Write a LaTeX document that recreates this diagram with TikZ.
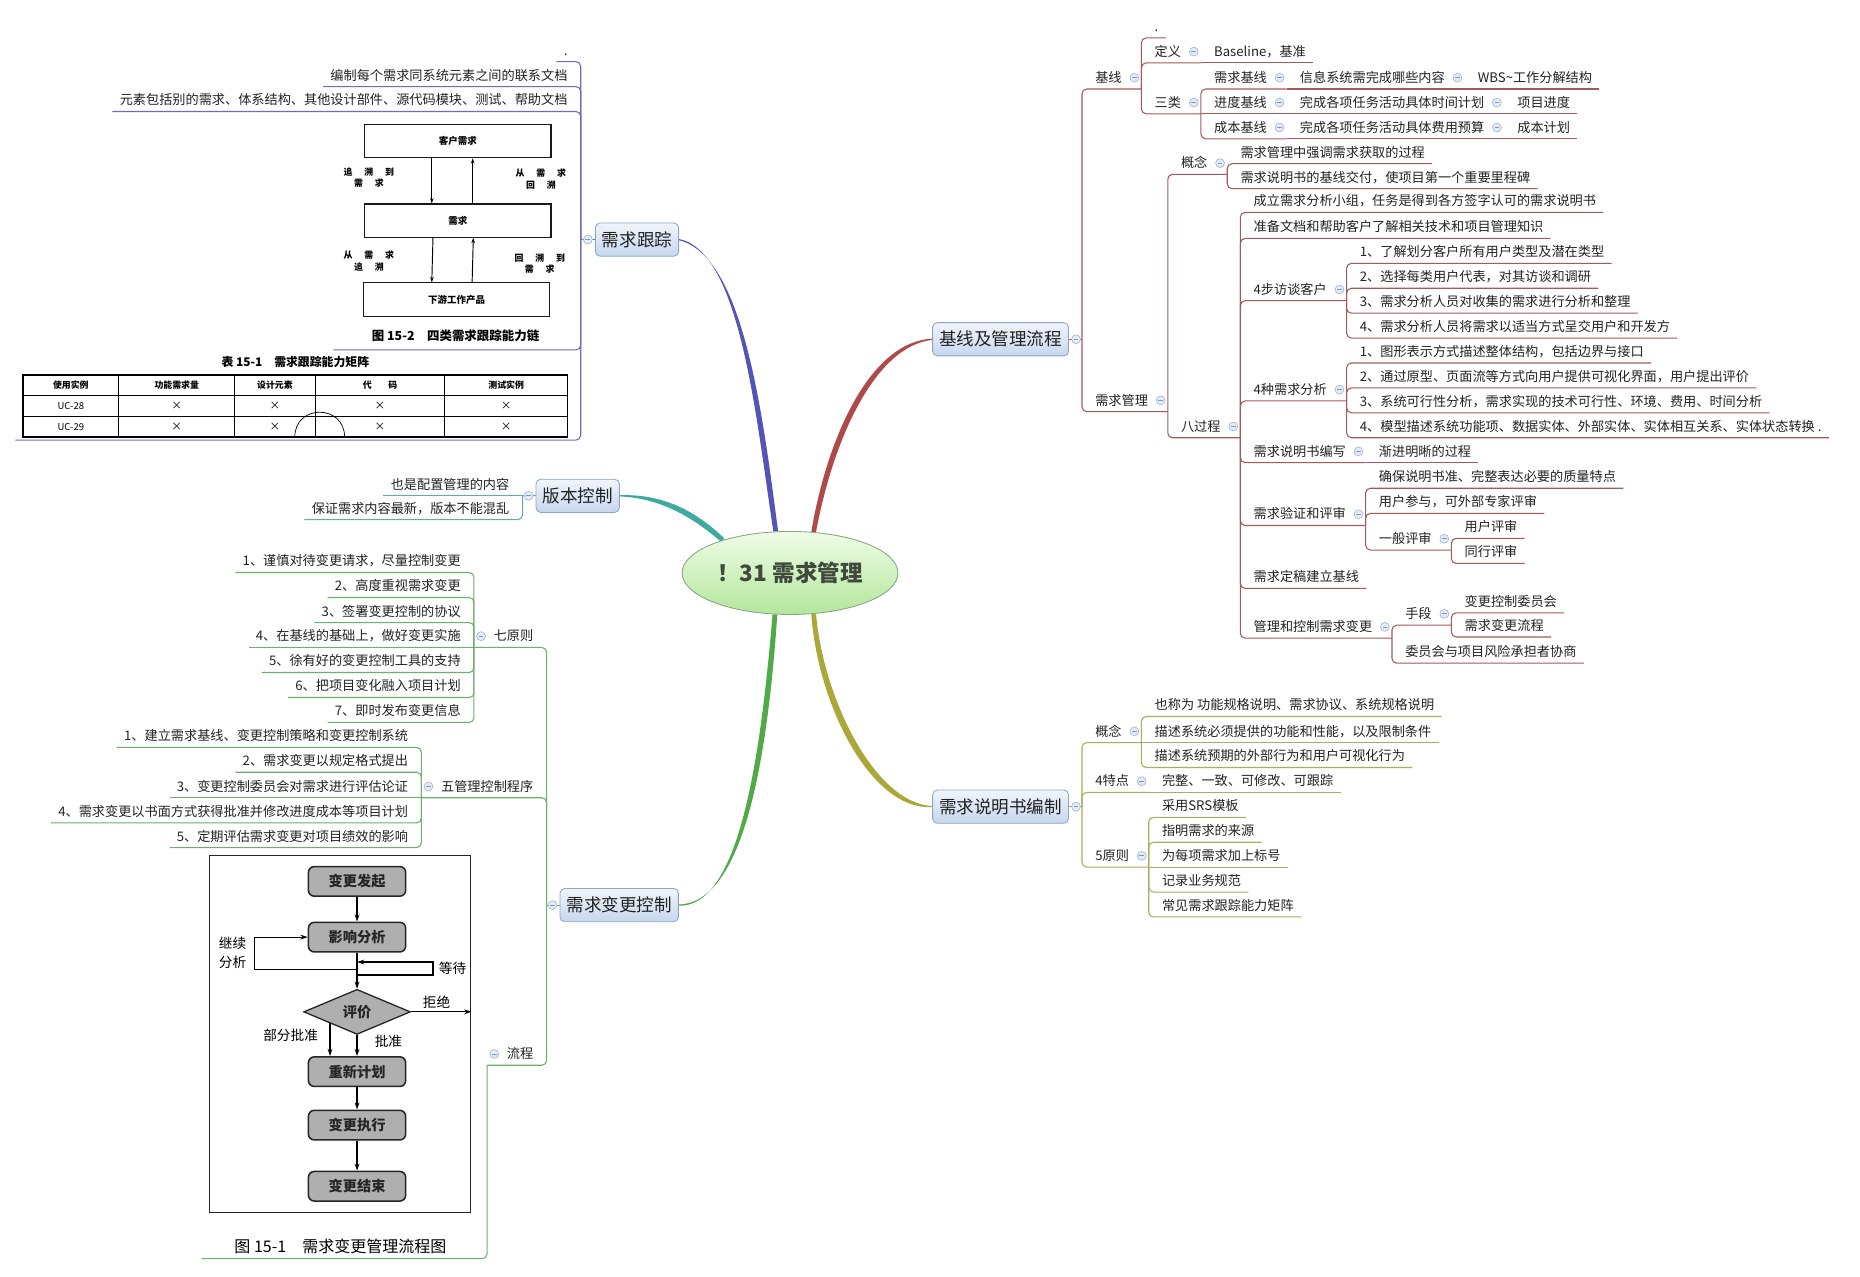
\documentclass[tikz,border=0pt]{standalone}
\usepackage{fontspec}
\setmainfont{Noto Sans CJK SC}
\usetikzlibrary{shapes.geometric,arrows.meta,backgrounds}

\definecolor{txt}{HTML}{222222}
\definecolor{mkF}{HTML}{E3EBF6}
\definecolor{mkD}{HTML}{9FB3D1}
\definecolor{mkL}{HTML}{7F97BF}
\definecolor{bxT}{HTML}{F1F5FB}
\definecolor{bxB}{HTML}{C6D7EE}
\definecolor{bxD}{HTML}{8EA5C3}
\definecolor{rtT}{HTML}{EFFCE6}
\definecolor{rtB}{HTML}{B3E69C}
\definecolor{rtD}{HTML}{86A47E}
\definecolor{rtX}{HTML}{3F4A3C}
\definecolor{cRed}{HTML}{A45A5A}
\definecolor{cOlive}{HTML}{ACAC5E}
\definecolor{cPurple}{HTML}{6E6EB4}
\definecolor{cTeal}{HTML}{5EAEA6}
\definecolor{cGreen}{HTML}{6DAF6D}
\definecolor{cvP}{HTML}{5454B6}
\definecolor{cvR}{HTML}{B04A4A}
\definecolor{cvT}{HTML}{3FAAA0}
\definecolor{cvO}{HTML}{A9A838}
\definecolor{cvG}{HTML}{4FAA47}
\definecolor{fcF}{HTML}{AFAFAF}

\tikzset{
 tt/.style={inner xsep=6pt, inner ysep=1pt, font=\fontsize{11.1}{13}\selectfont, text=txt},
 mk/.style={circle, minimum size=7.5pt, inner sep=0pt, fill=mkF, draw=mkD, line width=0.5pt,
   path picture={\draw[mkL, line width=0.7pt] ([xshift=-2pt]path picture bounding box.center) -- ([xshift=2pt]path picture bounding box.center);}},
 ln/.style={line width=0.9pt, rounded corners=4pt},
 bx/.style={rounded corners=4pt, draw=bxD, line width=0.7pt, top color=bxT, bottom color=bxB,
   minimum height=28pt, inner xsep=5.5pt, inner ysep=0pt, font=\fontsize{14.8}{17}\selectfont, text=txt},
 rootst/.style={ellipse, draw=rtD, line width=0.7pt, top color=rtT, bottom color=rtB,
   minimum width=182pt, minimum height=70pt, inner sep=0pt, font=\fontsize{19}{22}\selectfont\bfseries, text=rtX},
 fbox/.style={draw=black!90, line width=0.9pt, minimum width=157pt, minimum height=28pt, inner sep=0pt,
   font=\fontsize{8}{9}\selectfont\bfseries},
 farr/.style={line width=0.8pt, -{Stealth[length=4.5pt,width=3pt]}},
 flab/.style={align=center, inner sep=0pt, font=\fontsize{7.5}{9.5}\selectfont\bfseries},
 tcell/.style={inner sep=0pt, font=\fontsize{7.5}{9}\selectfont\bfseries},
 fcb/.style={rounded corners=5pt, draw=black!85, line width=1.3pt, fill=fcF, minimum width=82pt,
   minimum height=25pt, inner sep=0pt, font=\fontsize{12}{14}\selectfont\bfseries, text=black!85},
 fcarr/.style={line width=1pt, -{Stealth[length=6pt,width=4pt]}},
 fclab/.style={inner sep=0pt, align=center, font=\fontsize{11.5}{16}\selectfont},
}

% right-side leaf / parent ; optional [s] = straight (same line) connector
\newcommand\RT[5][e]{%
  \coordinate (#2-s) at (#3-e |- 0,#4);
  \node[tt, anchor=base west] (#2) at ([shift={(5,-5.5)}]#2-s) {#5};
  \path (#2.base east) ++(0,5.5) coordinate (#2-e);
  \if#1s\draw[ln] (#3-e) -- (#2-e);\else\draw[ln] (#3-e) -- (#2-s) -- (#2-e);\fi
}
\newcommand\RP[5][e]{%
  \coordinate (#2-s) at (#3-e |- 0,#4);
  \node[tt, anchor=base west] (#2) at ([shift={(5,-5.5)}]#2-s) {#5};
  \path (#2.base east) ++(10.5,5.5) coordinate (#2-e);
  \if#1s\draw[ln] (#3-e) -- (#2-e);\else\draw[ln] (#3-e) -- (#2-s) -- (#2-e);\fi
  \path (#2.base east) ++(4.5,-4) node[mk] (#2-m) {};
}
\newcommand\LT[5][e]{%
  \coordinate (#2-s) at (#3-e |- 0,#4);
  \node[tt, anchor=base east] (#2) at ([shift={(-5,-5.5)}]#2-s) {#5};
  \path (#2.base west) ++(0,5.5) coordinate (#2-e);
  \if#1s\draw[ln] (#3-e) -- (#2-e);\else\draw[ln] (#3-e) -- (#2-s) -- (#2-e);\fi
}
\newcommand\LP[5][e]{%
  \coordinate (#2-s) at (#3-e |- 0,#4);
  \node[tt, anchor=base east] (#2) at ([shift={(-5,-5.5)}]#2-s) {#5};
  \path (#2.base west) ++(-10.5,5.5) coordinate (#2-e);
  \if#1s\draw[ln] (#3-e) -- (#2-e);\else\draw[ln] (#3-e) -- (#2-s) -- (#2-e);\fi
  \path (#2.base west) ++(-4.5,-4) node[mk] (#2-m) {};
}

\begin{document}
\begin{tikzpicture}[x=1pt, y=-1pt]
\useasboundingbox (0,0) rectangle (1568,1076);
\begin{scope}[on background layer]
\fill[white] (0,0) rectangle (1568,1076);
\end{scope}

% ---------- root and main topics ----------
\node[rootst] (root) at (666,483) {！31 需求管理};
\node[bx] (trk)  at (537,202)   {需求跟踪};
\node[bx] (base) at (843.5,286) {基线及管理流程};
\node[bx] (ver)  at (487,418)   {版本控制};
\node[bx] (spec) at (843.5,680) {需求说明书编制};
\node[bx] (chg)  at (522,763)   {需求变更控制};

\begin{scope}[on background layer]
\fill[cvP] ([xshift=-2pt]root.109) .. controls (637,350) and (624,212) .. ([yshift=0.5pt]trk.east)
  -- ([yshift=-0.5pt]trk.east) .. controls (627,216) and (643,350) .. ([xshift=2pt]root.109) -- cycle;
\fill[cvR] ([xshift=-2pt]root.60) .. controls (697,370) and (733,288) .. ([yshift=0.5pt]base.west)
  -- ([yshift=-0.5pt]base.west) .. controls (737,292) and (702,372) .. ([xshift=2pt]root.60) -- cycle;
\fill[cvT] ([shift={(1.4,-1.4)}]root.154) .. controls (588,432) and (560,416) .. ([yshift=0.5pt]ver.east)
  -- ([yshift=-0.5pt]ver.east) .. controls (558,420) and (585,437) .. ([shift={(-1.4,1.4)}]root.154) -- cycle;
\fill[cvO] ([xshift=-2pt]root.300) .. controls (689,592) and (733,683) .. ([yshift=-0.5pt]spec.west)
  -- ([yshift=0.5pt]spec.west) .. controls (737,677) and (694,588) .. ([xshift=2pt]root.300) -- cycle;
\fill[cvG] ([xshift=-2pt]root.250) .. controls (641,640) and (623,765) .. ([yshift=-0.5pt]chg.east)
  -- ([yshift=0.5pt]chg.east) .. controls (627,761) and (647,640) .. ([xshift=2pt]root.250) -- cycle;
\end{scope}

% ---------- 基线及管理流程 ----------
\begin{scope}[ln/.append style={draw=cRed}]
\path (base.east) ++(11,0) coordinate (base-e);
\draw[ln] (base.east) -- (base-e);
\node[mk] (base-m) at ([xshift=6pt]base.east) {};
\RP{jx}{base}{75}{基线}
\RT{dot1}{jx}{32}{.}
\RP{dy}{jx}{53}{定义}
\RT[s]{bl}{dy}{53}{Baseline，基准}
\RP{sl}{jx}{96}{三类}
\RP{xqjx}{sl}{75}{需求基线}
\RP[s]{xxxt}{xqjx}{75}{信息系统需完成哪些内容}
\RT[s]{wbs}{xxxt}{75}{WBS\textasciitilde 工作分解结构}
\RP[s]{jdjx}{sl}{96}{进度基线}
\RP[s]{sjjh}{jdjx}{96}{完成各项任务活动具体时间计划}
\RT[s]{xmjd}{sjjh}{96}{项目进度}
\RP{cbjx}{sl}{117}{成本基线}
\RP[s]{fyys}{cbjx}{117}{完成各项任务活动具体费用预算}
\RT[s]{cbjh}{fyys}{117}{成本计划}
\RP{xqgl}{base}{347}{需求管理}
\RP{gn1}{xqgl}{147}{概念}
\RT{gn1a}{gn1}{138}{需求管理中强调需求获取的过程}
\RT{gn1b}{gn1}{159}{需求说明书的基线交付，使项目第一个重要里程碑}
\RP{bgc}{xqgl}{369}{八过程}
\RT{p1}{bgc}{179}{成立需求分析小组，任务是得到各方签字认可的需求说明书}
\RT{p2}{bgc}{201}{准备文档和帮助客户了解相关技术和项目管理知识}
\RP{p3}{bgc}{253.5}{4步访谈客户}
\RT{p3a}{p3}{222}{1、了解划分客户所有用户类型及潜在类型}
\RT{p3b}{p3}{243}{2、选择每类用户代表，对其访谈和调研}
\RT{p3c}{p3}{264}{3、需求分析人员对收集的需求进行分析和整理}
\RT{p3d}{p3}{285}{4、需求分析人员将需求以适当方式呈交用户和开发方}
\RP{p4}{bgc}{338}{4种需求分析}
\RT{p4a}{p4}{306}{1、图形表示方式描述整体结构，包括边界与接口}
\RT{p4b}{p4}{327}{2、通过原型、页面流等方式向用户提供可视化界面，用户提出评价}
\RT{p4c}{p4}{348}{3、系统可行性分析，需求实现的技术可行性、环境、费用、时间分析}
\RT{p4d}{p4}{369}{4、模型描述系统功能项、数据实体、外部实体、实体相互关系、实体状态转换 .}
\RP{p5}{bgc}{390}{需求说明书编写}
\RT[s]{p5a}{p5}{390}{渐进明晰的过程}
\RP{p6}{bgc}{443}{需求验证和评审}
\RT{p6a}{p6}{411.6}{确保说明书准、完整表达必要的质量特点}
\RT{p6b}{p6}{432.8}{用户参与，可外部专家评审}
\RP{p6c}{p6}{463.7}{一般评审}
\RT{p6c1}{p6c}{453.8}{用户评审}
\RT{p6c2}{p6c}{475}{同行评审}
\RT{p7}{bgc}{496}{需求定稿建立基线}
\RP{p8}{bgc}{538}{管理和控制需求变更}
\RP{p8a}{p8}{527}{手段}
\RT{p8a1}{p8a}{516.6}{变更控制委员会}
\RT{p8a2}{p8a}{537}{需求变更流程}
\RT{p8b}{p8}{559}{委员会与项目风险承担者协商}
\end{scope}

% ---------- 需求说明书编制 ----------
\begin{scope}[ln/.append style={draw=cOlive}]
\path (spec.east) ++(11,0) coordinate (spec-e);
\draw[ln] (spec.east) -- (spec-e);
\node[mk] (spec-m) at ([xshift=6pt]spec.east) {};
\RP{sg}{spec}{626}{概念}
\RT{sga}{sg}{604}{也称为 功能规格说明、需求协议、系统规格说明}
\RT[s]{sgb}{sg}{626}{描述系统必须提供的功能和性能，以及限制条件}
\RT{sgc}{sg}{647}{描述系统预期的外部行为和用户可视化行为}
\RP{st}{spec}{668}{4特点}
\RT[s]{sta}{st}{668}{完整、一致、可修改、可跟踪}
\RP{sy}{spec}{731}{5原则}
\RT{sy1}{sy}{689}{采用SRS模板}
\RT{sy2}{sy}{710}{指明需求的来源}
\RT[s]{sy3}{sy}{731}{为每项需求加上标号}
\RT{sy4}{sy}{752}{记录业务规范}
\RT{sy5}{sy}{773}{常见需求跟踪能力矩阵}
\end{scope}

% ---------- 需求跟踪 ----------
\begin{scope}[ln/.append style={draw=cPurple}]
\path (trk.west) ++(-12,0) coordinate (trk-e);
\draw[ln] (trk.west) -- (trk-e);
\node[mk] (trk-m) at ([xshift=-6pt]trk.west) {};
\LT{dot2}{trk}{52}{.}
\LT{tk1}{trk}{73}{编制每个需求同系统元素之间的联系文档}
\LT{tk2}{trk}{94}{元素包括别的需求、体系结构、其他设计部件、源代码模块、测试、帮助文档}
\coordinate (f152-s) at (trk-e |- 0,295);
\coordinate (f152-e) at (281,295);
\draw[ln] (trk-e) -- (f152-s) -- (f152-e);
\coordinate (tb-s) at (trk-e |- 0,371);
\coordinate (tb-e) at (13,371);
\draw[ln] (trk-e) -- (tb-s) -- (tb-e);
\end{scope}

% figure 15-2
\node[fbox] (fa) at (386,119) {客户需求};
\node[fbox] (fb) at (386,186) {需求};
\node[fbox] (fc) at (385,252.5) {下游工作产品};
\draw[farr] ([xshift=-22pt]fa.south) -- ([xshift=-22pt]fb.north);
\draw[farr] ([xshift=12.5pt]fb.north) -- ([xshift=12.5pt]fa.south);
\draw[farr] ([xshift=-21pt]fb.south) -- ([xshift=-21pt]fc.north);
\draw[farr] ([xshift=13pt]fc.north) -- ([xshift=13pt]fb.south);
\node[flab] (fl1) at (311,150) {追\hspace{10pt}溯\hspace{10pt}到\\需\hspace{10pt}求};
\node[flab] (fl2) at (456,151) {从\hspace{10pt}需\hspace{10pt}求\\回\hspace{10pt}溯};
\node[flab] (fl3) at (311,220) {从\hspace{10pt}需\hspace{10pt}求\\追\hspace{10pt}溯};
\node[flab] (fl4) at (455,222) {回\hspace{10pt}溯\hspace{10pt}到\\需\hspace{10pt}求};
\node[inner sep=0pt, font=\fontsize{10.5}{12}\selectfont\bfseries] (cap2) at (384,283) {图 15-2\quad 四类需求跟踪能力链};

% table 15-1
\node[inner sep=0pt, font=\fontsize{10}{12}\selectfont\bfseries] (tbt) at (249,305) {表 15-1\quad 需求跟踪能力矩阵};
\draw[line width=1.2pt] (19.4,316) rectangle (478.5,368.5);
\draw[line width=1pt] (19.4,333.5) -- (478.5,333.5);
\draw[line width=0.8pt] (19.4,350.7) -- (478.5,350.7);
\foreach \x in {100,198,265.6,375} \draw[line width=0.8pt] (\x,316) -- (\x,368.5);
\node[tcell] (h1) at (59.7,325) {使用实例};
\node[tcell] (h2) at (149,325) {功能需求量};
\node[tcell] (h3) at (231.8,325) {设计元素};
\node[tcell] (h4) at (320.3,325) {代\hspace{14pt}码};
\node[tcell] (h5) at (426.7,325) {测试实例};
\node[tcell, font=\fontsize{8}{9}\selectfont] (r1a) at (59.7,342) {UC-28};
\node[tcell, font=\fontsize{8}{9}\selectfont] (r2a) at (59.7,359.6) {UC-29};
\foreach \c/\x in {b/149,c/231.8,d/320.3,e/426.7}{
  \node[tcell, font=\fontsize{9}{9}\selectfont] (r1\c) at (\x,342) {×};
  \node[tcell, font=\fontsize{9}{9}\selectfont] (r2\c) at (\x,359.6) {×};
}
\draw[line width=0.6pt] (248.5,368.5) .. controls (248.5,340.5) and (290.5,340.5) .. (290.5,368.5);

% ---------- 版本控制 ----------
\begin{scope}[ln/.append style={draw=cTeal}]
\path (ver.west) ++(-11,0) coordinate (ver-e);
\draw[ln] (ver.west) -- (ver-e);
\node[mk] (ver-m) at ([xshift=-6pt]ver.west) {};
\LT[s]{v1}{ver}{418}{也是配置管理的内容}
\LT{v2}{ver}{438}{保证需求内容最新，版本不能混乱}
\end{scope}

% ---------- 需求变更控制 ----------
\begin{scope}[ln/.append style={draw=cGreen}]
\path (chg.west) ++(-11,0) coordinate (chg-e);
\draw[ln] (chg.west) -- (chg-e);
\node[mk] (chg-m) at ([xshift=-6pt]chg.west) {};
\LP{qy}{chg}{545.8}{七原则}
\LT{qy1}{qy}{482.6}{1、谨慎对待变更请求，尽量控制变更}
\LT{qy2}{qy}{503.7}{2、高度重视需求变更}
\LT{qy3}{qy}{524.8}{3、签署变更控制的协议}
\LT[s]{qy4}{qy}{545.8}{4、在基线的基础上，做好变更实施}
\LT{qy5}{qy}{566.9}{5、徐有好的变更控制工具的支持}
\LT{qy6}{qy}{588}{6、把项目变化融入项目计划}
\LT{qy7}{qy}{609}{7、即时发布变更信息}
\LP{wg}{chg}{672.5}{五管理控制程序}
\LT{wg1}{wg}{630}{1、建立需求基线、变更控制策略和变更控制系统}
\LT{wg2}{wg}{651}{2、需求变更以规定格式提出}
\LT[s]{wg3}{wg}{672.5}{3、变更控制委员会对需求进行评估论证}
\LT{wg4}{wg}{693.7}{4、需求变更以书面方式获得批准并修改进度成本等项目计划}
\LT{wg5}{wg}{714.5}{5、定期评估需求变更对项目绩效的影响}
\LP{lc}{chg}{898}{流程}
\coordinate (fcg-s) at (lc-e |- 0,1061);
\coordinate (fcg-e) at (170,1061);
\draw[ln] (lc-e) -- (fcg-s) -- (fcg-e);
\end{scope}

% flowchart figure 15-1
\node[draw=black!85, line width=0.9pt, minimum width=220.4pt, minimum height=301.2pt, inner sep=0pt] (frm) at (286.7,871.6) {};
\node[fcb] (q1) at (301,743) {变更发起};
\node[fcb] (q2) at (301,790) {影响分析};
\node[diamond, aspect=2.4, draw=black!85, line width=1.1pt, fill=fcF, minimum width=90pt, minimum height=38pt,
  inner sep=0pt, font=\fontsize{12}{14}\selectfont\bfseries, text=black!85] (pj) at (301,853) {评价};
\node[fcb] (q3) at (301,903.4) {重新计划};
\node[fcb] (q4) at (301,948.5) {变更执行};
\node[fcb] (q5) at (301,1000) {变更结束};
\draw[fcarr] (q1) -- (q2);
\draw[fcarr] (q2) -- (pj);
\draw[fcarr] (q2.south |- 0,817) -| ([xshift=-45pt]q2.west) -- (q2.west);
\draw[fcarr] (q2.south |- 0,822) -| (365,811) -- (q2.south |- 0,811);
\draw[fcarr] (pj.east) -- (pj.east -| frm.east);
\draw[fcarr] (pj.south west) -- (pj.south west |- q3.north);
\draw[fcarr] (pj.south) -- (q3.north);
\draw[fcarr] (q3) -- (q4);
\draw[fcarr] (q4) -- (q5);
\node[fclab] (lb1) at (196,803) {继续\\分析};
\node[fclab] (lb2) at (381.5,816) {等待};
\node[fclab] (lb3) at (368,845) {拒绝};
\node[fclab] (lb4) at (245,873) {部分批准};
\node[fclab] (lb5) at (327.5,878) {批准};
\node[inner sep=0pt, font=\fontsize{13.5}{16}\selectfont] (cap1) at (287,1051) {图 15-1\quad 需求变更管理流程图};

\end{tikzpicture}
\end{document}
